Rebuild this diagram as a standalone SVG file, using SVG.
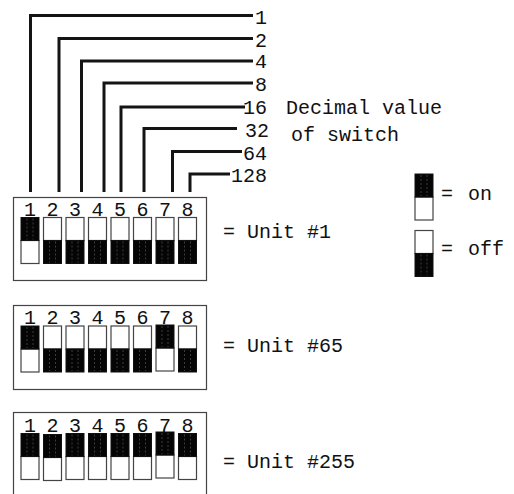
<svg xmlns="http://www.w3.org/2000/svg" xmlns:xlink="http://www.w3.org/1999/xlink" width="514" height="494" viewBox="0 0 514 494">
<style>
text{font-family:"Liberation Mono","DejaVu Sans Mono",monospace;font-size:20px;fill:#111}
.num{text-anchor:middle}
.val{text-anchor:end}
.box{fill:#fff;stroke:#444;stroke-width:1.2}
.lt{fill:#fff;stroke:#444;stroke-width:1.2}
.dk{fill:#050505;stroke:#111;stroke-width:1}
.tx{stroke:#3c3c3c;stroke-width:1;stroke-dasharray:2 2;fill:none}
.con{fill:none;stroke:#141414;stroke-width:3}
</style>
<defs>
<g id="swOn">
<rect class="lt" x="0" y="23" width="18" height="23"/>
<rect class="dk" x="0" y="0" width="18" height="23"/>
<path class="tx" d="M6 1V22M12 1V22"/>
</g>
<g id="swOff">
<rect class="lt" x="0" y="0" width="18" height="23"/>
<rect class="dk" x="0" y="23" width="18" height="23"/>
<path class="tx" d="M6 24V45M12 24V45"/>
</g>
</defs>
<rect width="514" height="494" fill="#fff"/>

<g id="connectors">
<path class="con" d="M30.5 192V15.5H253"/>
<path class="con" d="M59 192V38.5H253"/>
<path class="con" d="M81.5 192V61H253"/>
<path class="con" d="M104 192V83H253"/>
<path class="con" d="M121 192V107H245"/>
<path class="con" d="M144 192V128.5H237"/>
<path class="con" d="M172.5 192V151.5H242"/>
<path class="con" d="M190 192V174H230"/>
</g>

<g id="values">
<text class="val" x="267" y="24">1</text>
<text class="val" x="267" y="47">2</text>
<text class="val" x="267" y="68">4</text>
<text class="val" x="267" y="91">8</text>
<text class="val" x="267" y="114">16</text>
<text class="val" x="269" y="137">32</text>
<text class="val" x="267" y="160">64</text>
<text class="val" x="267" y="182">128</text>
</g>

<g id="caption">
<text x="286" y="114">Decimal value</text>
<text x="291" y="141">of switch</text>
</g>

<g id="unit1">
<rect class="box" x="13.5" y="197.5" width="193" height="83"/>
<text class="num" y="215.5"><tspan x="30">1</tspan><tspan x="52.5">2</tspan><tspan x="75">3</tspan><tspan x="97.5">4</tspan><tspan x="120">5</tspan><tspan x="142.5">6</tspan><tspan x="165">7</tspan><tspan x="187.5">8</tspan></text>
<use xlink:href="#swOn" x="21" y="217.5"/>
<use xlink:href="#swOff" x="43.5" y="217.5"/>
<use xlink:href="#swOff" x="66" y="217.5"/>
<use xlink:href="#swOff" x="88.5" y="217.5"/>
<use xlink:href="#swOff" x="111" y="217.5"/>
<use xlink:href="#swOff" x="133.5" y="217.5"/>
<use xlink:href="#swOff" x="156" y="217.5"/>
<use xlink:href="#swOff" x="178.5" y="217.5"/>
<text x="223" y="238">=<tspan x="247">Unit #1</tspan></text>
</g>

<g id="unit65">
<rect class="box" x="13.5" y="305.5" width="193" height="84"/>
<text class="num" y="324"><tspan x="30">1</tspan><tspan x="52.5">2</tspan><tspan x="75">3</tspan><tspan x="97.5">4</tspan><tspan x="120">5</tspan><tspan x="142.5">6</tspan><tspan x="165">7</tspan><tspan x="187.5">8</tspan></text>
<use xlink:href="#swOn" x="21" y="326"/>
<use xlink:href="#swOff" x="43.5" y="326"/>
<use xlink:href="#swOff" x="66" y="326"/>
<use xlink:href="#swOff" x="88.5" y="326"/>
<use xlink:href="#swOff" x="111" y="326"/>
<use xlink:href="#swOff" x="133.5" y="326"/>
<use xlink:href="#swOn" x="156" y="325"/>
<use xlink:href="#swOff" x="178.5" y="326"/>
<text x="223" y="352">=<tspan x="247">Unit #65</tspan></text>
</g>

<g id="unit255">
<rect class="box" x="13.5" y="412.5" width="193" height="84"/>
<text class="num" y="431.5"><tspan x="30">1</tspan><tspan x="52.5">2</tspan><tspan x="75">3</tspan><tspan x="97.5">4</tspan><tspan x="120">5</tspan><tspan x="142.5">6</tspan><tspan x="165">7</tspan><tspan x="187.5">8</tspan></text>
<use xlink:href="#swOn" x="21" y="433.5"/>
<use xlink:href="#swOn" x="43.5" y="434.5"/>
<use xlink:href="#swOn" x="66" y="433.5"/>
<use xlink:href="#swOn" x="88.5" y="433.5"/>
<use xlink:href="#swOn" x="111" y="433.5"/>
<use xlink:href="#swOn" x="133.5" y="433.5"/>
<use xlink:href="#swOn" x="156" y="432"/>
<use xlink:href="#swOn" x="178.5" y="433.5"/>
<text x="223" y="468">=<tspan x="247">Unit #255</tspan></text>
</g>

<g id="legend-on">
<use xlink:href="#swOn" x="415" y="174"/>
<text x="441" y="200">=<tspan x="468">on</tspan></text>
</g>

<g id="legend-off">
<use xlink:href="#swOff" x="415" y="230.5"/>
<text x="441" y="255">=<tspan x="468">off</tspan></text>
</g>
</svg>
